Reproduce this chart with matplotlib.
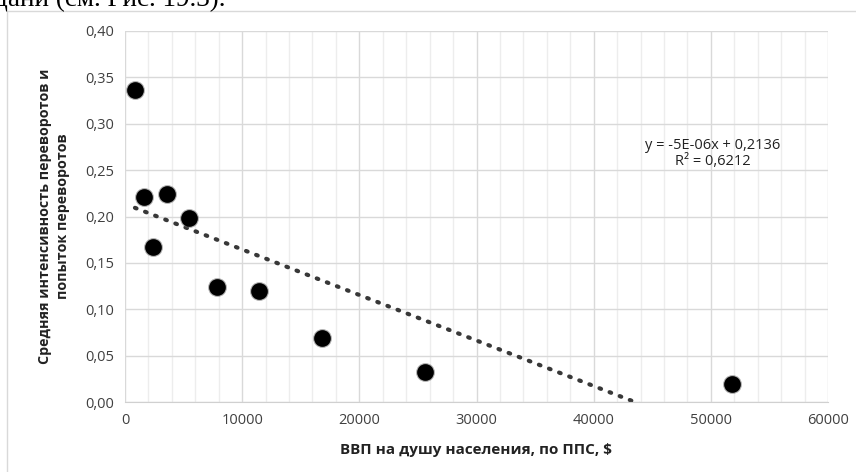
import numpy as np
import matplotlib
matplotlib.use("Agg")
import matplotlib.pyplot as plt
from matplotlib.ticker import MultipleLocator, FuncFormatter
from matplotlib.patches import Rectangle

gdp = [850, 1600, 2420, 3600, 5440, 7860, 11430, 16810, 25580, 51770]
coups = [0.336, 0.221, 0.1675, 0.224, 0.198, 0.1236, 0.1197, 0.0687, 0.0327, 0.0191]
xlabel = "ВВП на душу населения, по ППС, $"
ylabel = "Средняя интенсивность переворотов и\nпопыток переворотов"
eq_text = "y = -5E-06x + 0,2136\nR² = 0,6212"
top_text = "дани (см. Рис. 19.3)."

W, H = 856, 472
fig = plt.figure(figsize=(W / 100, H / 100), dpi=100)
fig.patch.set_facecolor("white")

# outer chart frame
fig.patches.append(Rectangle((7 / W, -0.05), 1.2, (H - 11) / H + 0.05,
                             transform=fig.transFigure, fill=False,
                             edgecolor="#d9d9d9", linewidth=1))
fig.text(-6 / W, 1 - 6 / H, top_text, family="Liberation Serif", fontsize=19.5,
         va="baseline", ha="left", color="black")

left, right, top, bottom = 125, 828, 31, 402
ax = fig.add_axes([left / W, 1 - bottom / H, (right - left) / W, (bottom - top) / H])
ax.set_xlim(0, 60000)
ax.set_ylim(0, 0.40)
ax.xaxis.set_major_locator(MultipleLocator(10000))
ax.xaxis.set_minor_locator(MultipleLocator(2000))
ax.yaxis.set_major_locator(MultipleLocator(0.05))
ax.grid(True, which="major", color="#d9d9d9", linewidth=1)
ax.grid(True, which="minor", axis="x", color="#ededed", linewidth=1)
ax.set_axisbelow(True)
for s in ["top", "right", "left"]:
    ax.spines[s].set_visible(False)
ax.spines["bottom"].set_color("#d0d0d0")
ax.tick_params(which="both", length=0)
ax.tick_params(axis="both", labelsize=10.5, colors="#404040", pad=8)
ax.yaxis.set_major_formatter(FuncFormatter(lambda v, p: f"{v:.2f}".replace(".", ",")))
ax.xaxis.set_major_formatter(FuncFormatter(lambda v, p: f"{int(round(v))}"))
for lab in ax.get_xticklabels() + ax.get_yticklabels():
    lab.set_family("Open Sans")

# trend line
k, b = np.polyfit(gdp, coups, 1)
xs = np.array([min(gdp), max(gdp)])
ax.plot(xs, k * xs + b, linestyle=(0, (0.4, 2.2)), dash_capstyle="round",
        color="#383838", linewidth=3)

# points with soft dark halo
ax.scatter(gdp, coups, s=185, color="#707070", alpha=0.55, zorder=3, linewidths=0)
ax.scatter(gdp, coups, s=145, color="black", zorder=4, linewidths=0)

ax.text(0.836, 0.67, eq_text, transform=ax.transAxes, ha="center", va="center",
        fontsize=10.5, family="Open Sans", color="#222222", linespacing=1.1)

fig.text((left + right) / 2 / W, 1 - 450 / H, xlabel, ha="center", va="center",
         fontsize=11, fontweight="bold", family="Open Sans", color="#222222")
fig.text(54 / W, 1 - 216 / H, ylabel, ha="center", va="center", rotation=90,
         fontsize=10.3, fontweight="bold", family="Open Sans", color="#222222",
         multialignment="center", linespacing=1.45)

fig.savefig("out.png", dpi=100)
